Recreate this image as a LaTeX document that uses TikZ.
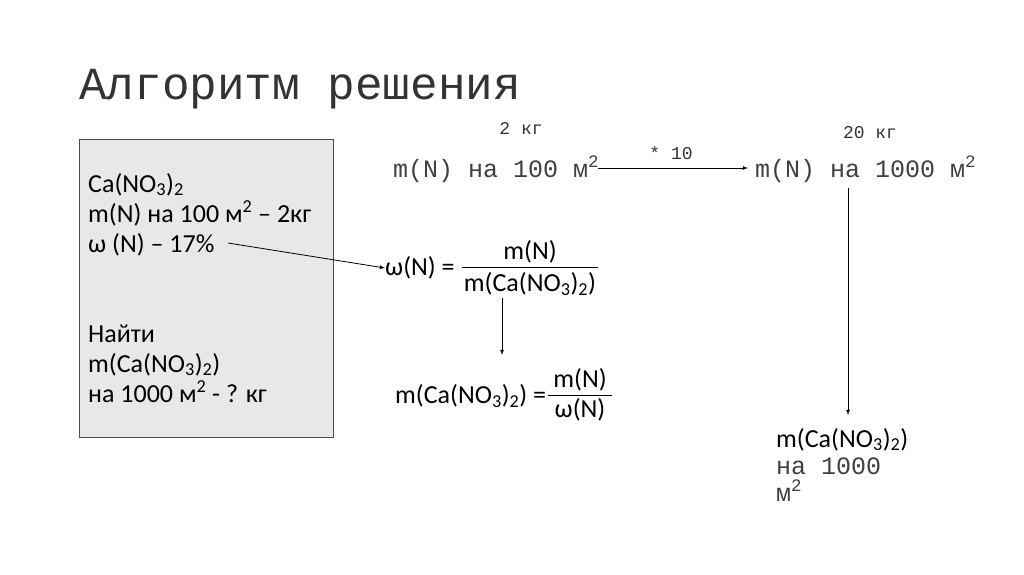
\documentclass[tikz,border=0pt]{standalone}
\usepackage{fontspec}
\setmainfont{Carlito}
\newfontfamily\monof{Liberation Mono}
\newcommand{\sbs}[1]{\textsubscript{#1}}
\newcommand{\sps}[1]{\textsuperscript{#1}}
\begin{document}
\begin{tikzpicture}[x=1pt,y=-1pt,
  sf/.style={inner sep=0pt,font=\fontsize{26}{30}\selectfont},
  mf/.style={inner sep=0pt,font=\monof\fontsize{25}{30}\selectfont,text=black!75},
  sm/.style={inner sep=0pt,font=\monof\fontsize{18}{20}\selectfont,text=black!80},
  arr/.style={-latex,thick}]
\useasboundingbox (0,0) rectangle (1024,574);
\node[inner sep=0pt,anchor=base west,font=\monof\fontsize{46}{50}\selectfont,text=black!80] (title) at (79,99) {Алгоритм решения};
\draw[fill=black!9,draw=black!70] (79,139) rectangle (333,437);
\node[sf,anchor=base west] (g1) at (88,192) {Ca(NO\sbs{3})\sbs{2}};
\node[sf,anchor=base west] (g2) at (88,222) {m(N) на 100 м\sps{2} – 2кг};
\node[sf,anchor=base west] (g3) at (88,252) {ω (N) – 17\%};
\node[sf,anchor=base west] (g4) at (88,342) {Найти};
\node[sf,anchor=base west] (g5) at (88,372) {m(Ca(NO\sbs{3})\sbs{2})};
\node[sf,anchor=base west] (g6) at (88,402) {на 1000 м\sps{2} - ? кг};
\node[sm] (kg2) at (521,128) {2 кг};
\node[mf,anchor=base west] (m100) at (393,177) {m(N) на 100 м\sps{2}};
\node[sm] (x10) at (671,153) {* 10};
\coordinate (a1) at (598,168);
\node[sm] (kg20) at (870,133) {20 кг};
\node[mf,anchor=base west] (m1000) at (755,177) {m(N) на 1000 м\sps{2}};
\coordinate (a2) at (748,168);
\draw[arr] (a1) -- (a2);
\coordinate (v1) at (848,188);
\coordinate (v2) at (848,415);
\draw[arr] (v1) -- (v2);
\node[sf,anchor=base west] (r1) at (776,447) {m(Ca(NO\sbs{3})\sbs{2})};
\node[mf,anchor=base west] (r2) at (776,474) {на 1000};
\node[mf,anchor=base west] (r3) at (776,501) {м\sps{2}};
\coordinate (s1) at (228,243);
\node[sf,anchor=west] (om) at (385,268) {ω(N) =};
\draw[arr] (s1) -- (om.west);
\node[sf] (num1) at (530,252) {m(N)};
\draw (462,267) -- (598,267);
\node[sf] (den1) at (530,284) {m(Ca(NO\sbs{3})\sbs{2})};
\coordinate (d1) at (502,298);
\coordinate (d2) at (502,355);
\draw[arr] (d1) -- (d2);
\node[sf,anchor=west] (eq2) at (395,396) {m(Ca(NO\sbs{3})\sbs{2}) =};
\node[sf] (num2) at (580,380) {m(N)};
\draw (548,395) -- (612,395);
\node[sf] (den2) at (580,410) {ω(N)};
\end{tikzpicture}
\end{document}
